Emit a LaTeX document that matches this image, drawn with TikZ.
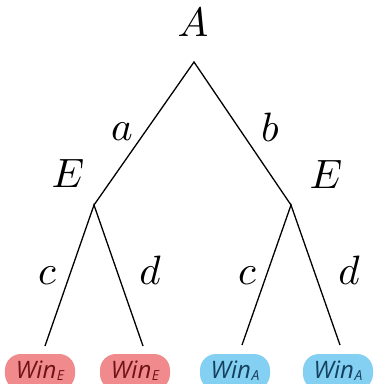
\documentclass[tikz,border=0pt]{standalone}
\usepackage{graphicx}
\usepackage{fontspec}
\newfontfamily\pillfont{Open Sans}
\definecolor{redfill}{HTML}{F08A8C}
\definecolor{redtext}{HTML}{6E1418}
\definecolor{bluefill}{HTML}{84D0F2}
\definecolor{bluetext}{HTML}{15405E}
\newcommand{\winsub}[1]{\scalebox{2.4}{\pillfont\itshape Win\kern0.2pt\raisebox{-0.8pt}{\scalebox{0.58}{#1}}}}
\begin{document}
\begin{tikzpicture}[x=1pt,y=-1pt,
  edge/.style={line width=1.3pt},
  lbl/.style={scale=4.1, inner sep=0pt},
  pillbg/.style={rounded corners=16pt},
  wintext/.style={inner sep=0pt},
  redtxt/.style={wintext, text=redtext},
  bluetxt/.style={wintext, text=bluetext}]
\useasboundingbox (0,0) rectangle (374,384);
\clip (0,0) rectangle (374,384);
\coordinate (r) at (194,62);
\coordinate (e1) at (94,205);
\coordinate (e2) at (291,205);
\coordinate (l1) at (45,346);
\coordinate (l2) at (143,346);
\coordinate (l3) at (242,345);
\coordinate (l4) at (340,345);
\draw[edge] (e1) -- (r) -- (e2);
\draw[edge] (l1) -- (e1) -- (l2);
\draw[edge] (l3) -- (e2) -- (l4);
\node[lbl] (A) at (193,22) {$A$};
\node[lbl] (a) at (122,132) {$a$};
\node[lbl] (b) at (270,127) {$b$};
\node[lbl] (E1) at (68,173) {$E$};
\node[lbl] (E2) at (326,174) {$E$};
\node[lbl] (c1) at (47,276) {$c$};
\node[lbl] (d1) at (150,270) {$d$};
\node[lbl] (c2) at (247,276) {$c$};
\node[lbl] (d2) at (349,270) {$d$};
\fill[pillbg, redfill] (5,354) rectangle (75,390);
\fill[pillbg, redfill] (100,354) rectangle (170,390);
\fill[pillbg, bluefill] (200,354) rectangle (270,390);
\fill[pillbg, bluefill] (303,354) rectangle (373,390);
\node[redtxt] (w1) at (40,371) {\winsub{E}};
\node[redtxt] (w2) at (135,371) {\winsub{E}};
\node[bluetxt] (w3) at (235,371) {\winsub{A}};
\node[bluetxt] (w4) at (338,371) {\winsub{A}};
\end{tikzpicture}
\end{document}
